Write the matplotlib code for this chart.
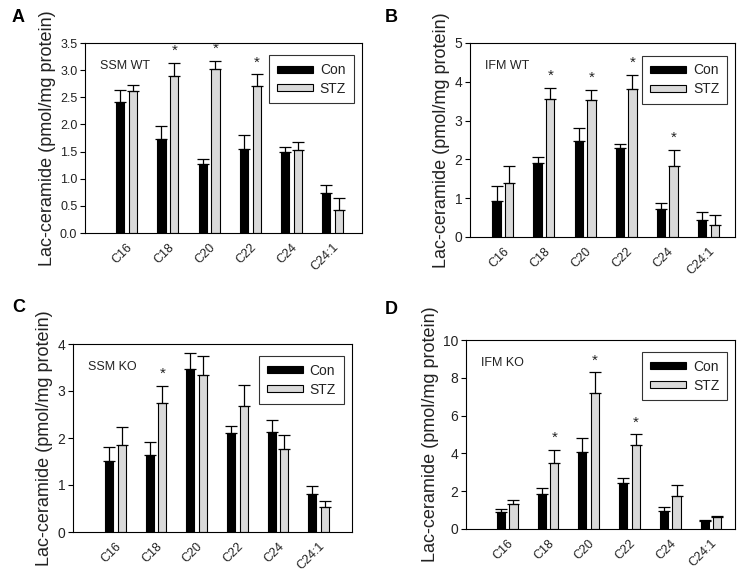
import matplotlib
matplotlib.use("Agg")
import matplotlib.pyplot as plt
import matplotlib.transforms as mtransforms
import numpy as np
from matplotlib.patches import Patch

plt.rcParams['font.family'] = ['Liberation Sans', 'DejaVu Sans']

categories = ["C16", "C18", "C20", "C22", "C24", "C24:1"]

# Panel A: SSM WT
a_con = [2.41, 1.74, 1.27, 1.54, 1.50, 0.74]
a_con_err = [0.22, 0.24, 0.09, 0.26, 0.08, 0.14]
a_stz = [2.62, 2.90, 3.02, 2.71, 1.53, 0.42]
a_stz_err = [0.10, 0.24, 0.15, 0.21, 0.15, 0.22]
a_star = [False, True, True, True, False, False]

# Panel B: IFM WT
b_con = [0.94, 1.90, 2.48, 2.29, 0.73, 0.44]
b_con_err = [0.37, 0.15, 0.34, 0.11, 0.14, 0.20]
b_stz = [1.38, 3.55, 3.52, 3.82, 1.83, 0.32]
b_stz_err = [0.45, 0.30, 0.28, 0.36, 0.42, 0.25]
b_star = [False, True, True, True, True, False]

# Panel C: SSM KO
c_con = [1.52, 1.63, 3.46, 2.10, 2.12, 0.80]
c_con_err = [0.28, 0.28, 0.34, 0.16, 0.27, 0.17]
c_stz = [1.86, 2.75, 3.35, 2.69, 1.77, 0.53]
c_stz_err = [0.38, 0.36, 0.40, 0.43, 0.30, 0.14]
c_star = [False, True, False, False, False, False]

# Panel D: IFM KO
d_con = [0.92, 1.87, 4.05, 2.43, 0.96, 0.42]
d_con_err = [0.13, 0.31, 0.78, 0.25, 0.21, 0.03]
d_stz = [1.32, 3.47, 7.22, 4.45, 1.77, 0.65]
d_stz_err = [0.23, 0.71, 1.08, 0.57, 0.55, 0.03]
d_star = [False, True, True, True, False, False]

panels = [
    dict(letter="A", label="SSM WT", con=a_con, ce=a_con_err, stz=a_stz, se=a_stz_err, star=a_star,
         ylim=(0, 3.5), yticks=np.arange(0, 3.51, 0.5), fmt="{:.1f}", xlim=(-1.01, 5.71),
         rect=(85, 43, 362, 233), letter_xy=(12, 18), tsize=9),
    dict(letter="B", label="IFM WT", con=b_con, ce=b_con_err, stz=b_stz, se=b_stz_err, star=b_star,
         ylim=(0, 5), yticks=np.arange(0, 6, 1), fmt="{:.0f}", xlim=(-0.8, 5.65),
         rect=(470, 43, 735, 237), letter_xy=(385, 18), tsize=10),
    dict(letter="C", label="SSM KO", con=c_con, ce=c_con_err, stz=c_stz, se=c_stz_err, star=c_star,
         ylim=(0, 4), yticks=np.arange(0, 5, 1), fmt="{:.0f}", xlim=(-1.04, 5.82),
         rect=(73, 344, 352, 532), letter_xy=(12, 307), tsize=10),
    dict(letter="D", label="IFM KO", con=d_con, ce=d_con_err, stz=d_stz, se=d_stz_err, star=d_star,
         ylim=(0, 10), yticks=np.arange(0, 11, 2), fmt="{:.0f}", xlim=(-1.01, 5.59),
         rect=(466, 340, 735, 529), letter_xy=(385, 310), tsize=10),
]

W, H = 747, 574
fig = plt.figure(figsize=(W / 100, H / 100), dpi=100)

x = np.arange(len(categories))
bw = 0.2
off = 0.155
txtc = "#222222"

for p in panels:
    l, t, r, b = p["rect"]
    ax = fig.add_axes([l / W, (H - b) / H, (r - l) / W, (b - t) / H])
    ax.bar(x - off, p["con"], bw, color="black", edgecolor="black", linewidth=0.8, zorder=2)
    ax.bar(x + off, p["stz"], bw, color="#d9d9d9", edgecolor="black", linewidth=0.8, zorder=2)
    ax.errorbar(x - off, p["con"], yerr=[np.zeros(len(x)), p["ce"]], fmt="none",
                ecolor="black", elinewidth=0.9, capsize=4, capthick=0.9, zorder=3)
    ax.errorbar(x + off, p["stz"], yerr=[np.zeros(len(x)), p["se"]], fmt="none",
                ecolor="black", elinewidth=0.9, capsize=4, capthick=0.9, zorder=3)
    yr = p["ylim"][1] - p["ylim"][0]
    for i, s in enumerate(p["star"]):
        if s:
            ax.text(x[i] + off, p["stz"][i] + p["se"][i] + 0.025 * yr, "*",
                    ha="center", va="bottom", fontsize=11, color=txtc)
    ax.set_xlim(*p["xlim"])
    ax.set_ylim(*p["ylim"])
    ax.set_yticks(p["yticks"])
    ax.set_yticklabels([p["fmt"].format(v) for v in p["yticks"]], fontsize=p["tsize"], color=txtc)
    ax.set_xticks(x)
    ax.set_xticklabels(categories, rotation=45, ha="right", rotation_mode="anchor",
                       fontsize=9, color=txtc)
    shift = mtransforms.ScaledTranslation(8 / 72, 0, fig.dpi_scale_trans)
    for lab in ax.get_xticklabels():
        lab.set_transform(lab.get_transform() + shift)
    ax.tick_params(axis="x", length=0, pad=6)
    ax.tick_params(axis="y", direction="out", length=3.5, width=0.8, pad=2)
    for sp in ax.spines.values():
        sp.set_linewidth(0.8)
    ax.set_ylabel("Lac-ceramide (pmol/mg protein)", fontsize=13, labelpad=3, color=txtc)
    ax.text(0.055, 0.88, p["label"], transform=ax.transAxes, fontsize=9, va="center",
            ha="left", color=txtc)
    handles = [Patch(facecolor="black", edgecolor="black", linewidth=0.8),
               Patch(facecolor="#d9d9d9", edgecolor="black", linewidth=0.8)]
    leg = ax.legend(handles, ["Con", "STZ"], loc="upper right", bbox_to_anchor=(0.97, 0.935),
                    fontsize=10, frameon=True, fancybox=False, edgecolor="black",
                    handlelength=2.6, handleheight=0.4, handletextpad=0.5,
                    borderpad=0.55, labelspacing=0.35, borderaxespad=0)
    leg.set_zorder(5)
    leg.get_frame().set_linewidth(0.8)
    for tx in leg.get_texts():
        tx.set_color(txtc)
    fig.text(p["letter_xy"][0] / W, 1 - p["letter_xy"][1] / H, p["letter"],
             fontsize=13, fontweight="bold", ha="left", va="center")

fig.savefig("out.png", dpi=100)
